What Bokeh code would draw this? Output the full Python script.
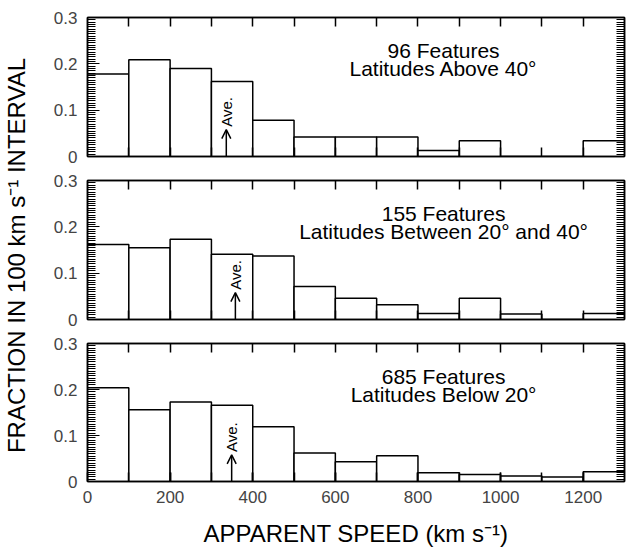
import math
from bokeh.plotting import figure
from bokeh.models import (Range1d, FixedTicker, LinearAxis, Label, Arrow, OpenHead,
                          ColumnDataSource)
from bokeh.layouts import row, column
from bokeh.embed import file_html
from bokeh.resources import INLINE

# ---- data ----
bin_left = [0, 100, 200, 300, 400, 500, 600, 700, 800, 900, 1000, 1100, 1200]
bin_right = [100, 200, 300, 400, 500, 600, 700, 800, 900, 1000, 1100, 1200, 1300]
frac_above40 = [0.178, 0.209, 0.190, 0.162, 0.078, 0.042, 0.042, 0.042, 0.013, 0.034, 0.0, 0.0, 0.034]
frac_20_40 = [0.162, 0.155, 0.173, 0.141, 0.137, 0.071, 0.046, 0.032, 0.013, 0.046, 0.012, 0.0, 0.013]
frac_below20 = [0.204, 0.156, 0.173, 0.166, 0.119, 0.062, 0.043, 0.056, 0.019, 0.015, 0.012, 0.010, 0.021]
n_features = [96, 155, 685]
lat_labels = ["Latitudes Above 40°", "Latitudes Between 20° and 40°", "Latitudes Below 20°"]
ave_speed = [336, 358, 349]
y_ticks = [0, 0.1, 0.2, 0.3]
x_ticks = [0, 200, 400, 600, 800, 1000, 1200]

FONT = "Liberation Sans"
series = [frac_above40, frac_20_40, frac_below20]
y_minor = [round(k * 0.005, 3) for k in range(61) if k % 20 != 0]
y_all = [round(k * 0.005, 3) for k in range(61)]
x_inner = bin_right[:-1]


def tick_axis(ticker, tin, width):
    ax = LinearAxis(ticker=ticker)
    ax.major_tick_in = tin
    ax.major_tick_out = 0
    ax.minor_tick_in = tin
    ax.minor_tick_out = 0
    ax.axis_line_width = 1.5
    ax.major_tick_line_width = width
    ax.minor_tick_line_width = width
    return ax


def make_panel(i, height, btop, bbot, show_x):
    p = figure(width=598, height=height, x_range=Range1d(0, 1300), y_range=Range1d(0, 0.3),
               output_backend="svg", toolbar_location=None,
               min_border_left=57, min_border_right=4, min_border_top=btop, min_border_bottom=bbot,
               x_axis_location=None, y_axis_location=None)
    p.xgrid.grid_line_color = None
    p.ygrid.grid_line_color = None
    p.outline_line_color = "black"
    p.outline_line_width = 1.5

    src = ColumnDataSource(dict(left=bin_left, right=bin_right, top=series[i],
                                bottom=[0] * len(bin_left)))
    p.quad(left="left", right="right", top="top", bottom="bottom", source=src,
           fill_color="white", line_color="black", line_width=1.5)

    # left axis: labelled, long major ticks, dense minor ticks
    lax = tick_axis(FixedTicker(ticks=y_ticks, minor_ticks=y_minor), 8, 1)
    lax.major_tick_in = 12
    lax.major_label_overrides = {0: "0", 0.1: "0.1", 0.2: "0.2", 0.3: "0.3"}
    lax.major_label_text_font = FONT
    lax.major_label_text_font_size = "17px"
    lax.major_label_standoff = 10
    p.add_layout(lax, "left")

    # right axis: ticks only
    rax = tick_axis(FixedTicker(ticks=[], minor_ticks=y_all), 8, 1)
    rax.major_label_standoff = 0
    p.add_layout(rax, "right")

    # top axis: ticks only
    tax = tick_axis(FixedTicker(ticks=[], minor_ticks=x_inner), 9, 1.5)
    tax.major_label_standoff = 0
    p.add_layout(tax, "above")

    if show_x:
        bax = tick_axis(FixedTicker(ticks=x_ticks, minor_ticks=x_inner), 9, 1.5)
        bax.major_label_text_font = FONT
        bax.major_label_text_font_size = "17px"
        bax.major_label_standoff = 9
        bax.axis_label = "APPARENT SPEED (km s⁻¹)"
        bax.axis_label_text_font = FONT
        bax.axis_label_text_font_size = "24px"
        bax.axis_label_text_font_style = "normal"
        bax.axis_label_text_color = "black"
        bax.axis_label_standoff = 14
    else:
        bax = tick_axis(FixedTicker(ticks=[], minor_ticks=x_inner), 9, 1.5)
        bax.major_label_standoff = 0
    p.add_layout(bax, "below")

    # panel annotations
    p.add_layout(Label(x=862, y=0.229, text=f"{n_features[i]} Features", text_font=FONT,
                       text_font_size="21px", text_align="center", text_baseline="middle",
                       text_color="black"))
    p.add_layout(Label(x=862, y=0.189, text=lat_labels[i], text_font=FONT,
                       text_font_size="21px", text_align="center", text_baseline="middle",
                       text_color="black"))

    # average arrow
    p.add_layout(Arrow(end=OpenHead(size=9, line_width=1.5), x_start=ave_speed[i], y_start=0,
                       x_end=ave_speed[i], y_end=0.058, line_width=1.5))
    p.add_layout(Label(x=ave_speed[i], y=0.064, text="Ave.", angle=math.pi / 2,
                       text_font=FONT, text_font_size="15px", text_align="left",
                       text_baseline="middle", text_color="black"))
    return p


p1 = make_panel(0, 168, 17, 12, False)
p2 = make_panel(1, 163, 12, 12, False)
p3 = make_panel(2, 218, 12, 66, True)

ylab = figure(width=30, height=549, x_range=Range1d(0, 30), y_range=Range1d(0, 549),
              output_backend="svg", toolbar_location=None, min_border=0,
              x_axis_location=None, y_axis_location=None)
ylab.xgrid.grid_line_color = None
ylab.ygrid.grid_line_color = None
ylab.outline_line_color = None
ylab.add_layout(Label(x=16, y=294, text="FRACTION IN 100 km s⁻¹ INTERVAL", angle=math.pi / 2,
                      text_font=FONT, text_font_size="24px", text_align="center",
                      text_baseline="middle", text_color="black"))

layout = row(ylab, column(p1, p2, p3))
open("out.html", "w").write(file_html(layout, INLINE))
